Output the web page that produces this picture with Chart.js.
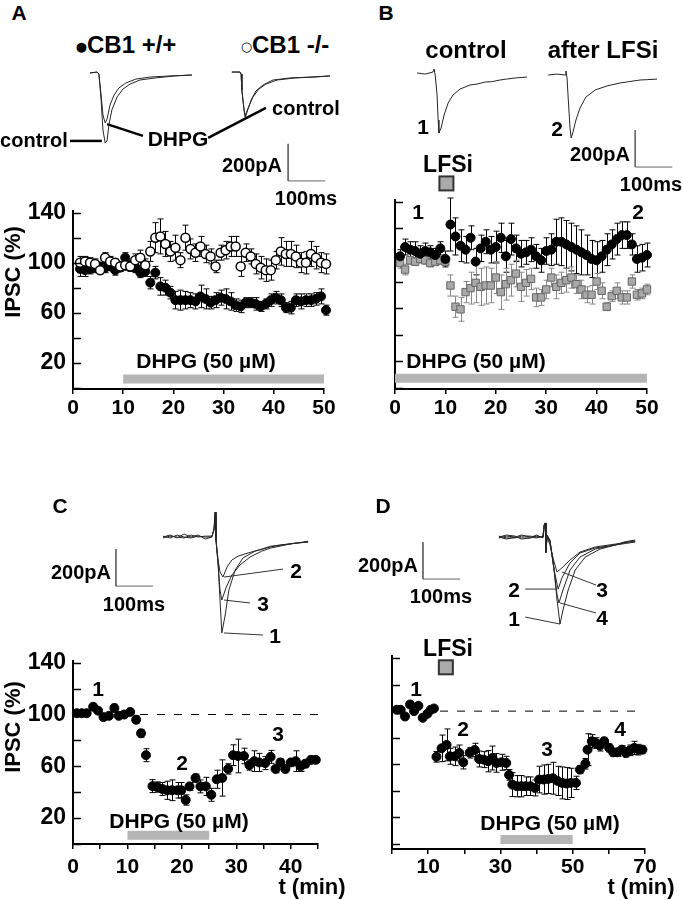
<!DOCTYPE html>
<html>
<head>
<meta charset="utf-8">
<script src="https://cdn.jsdelivr.net/npm/chart.js@4.4.0/dist/chart.umd.min.js"></script>
<style>
  body { margin: 0; background: #fff; }
  #fig { position: relative; width: 683px; height: 900px; overflow: hidden; background: #fff; }
  canvas { position: absolute; }
  .t { position: absolute; font-family: 'Liberation Sans', Arial, sans-serif; font-weight: bold; color: #000;
       line-height: 1; white-space: nowrap; transform: translate(-50%, -50%); }
</style>
</head>
<body>
<div id="fig">
  <canvas id="trA" width="340" height="150" style="left:0;top:60px"></canvas>
  <canvas id="trB" width="343" height="130" style="left:340px;top:60px"></canvas>
  <canvas id="trC" width="340" height="160" style="left:0;top:490px"></canvas>
  <canvas id="trD" width="343" height="160" style="left:340px;top:490px"></canvas>
  <canvas id="chA" width="340" height="235" style="left:0;top:190px"></canvas>
  <canvas id="chB" width="343" height="260" style="left:340px;top:165px"></canvas>
  <canvas id="chC" width="340" height="260" style="left:0;top:640px"></canvas>
  <canvas id="chD" width="343" height="260" style="left:340px;top:640px"></canvas>
</div>
<script>
//------------------------------------- Données -------------------------------------
// axe IPSC (%) commun
const yTickMarks = [0, 20, 40, 60, 80, 100, 120, 140];
const yTickLabels = [20, 60, 100, 140];

// A : CB1 +/+ (ronds pleins) et CB1 -/- (ronds vides), t en min
const timeA = [1.4,2.4,3.4,4.4,5.4,6.4,7.4,8.4,9.4,10.4,11.4,12.4,13.4,14.4,15.4,16.4,17.4,18.4,19.4,20.4,
  21.4,22.4,23.4,24.4,25.4,26.4,27.4,28.4,29.4,30.4,31.4,32.4,33.4,34.4,35.4,36.4,37.4,38.4,39.4,40.4,
  41.4,42.4,43.4,44.4,45.4,46.4,47.4,48.4,49.4,50.4];
const wildA = [95,94,95,96,97,96,97,94,96,104, 98,96,92,93,84,92,81,80,76,70, 70,70,70,69,73,71,68,70,72,71,
  69,66,65,68,68,67,65,67,70,72, 70,64,64,70,69,70,70,71,73,62];
const wildErrA = [6,5,4,4,3,4,3,4,3,4, 3,4,4,4,5,5,7,6,5,7, 8,7,6,6,9,8,5,6,6,8, 7,5,5,4,4,5,4,4,5,5, 5,4,5,5,6,5,5,5,6,4];
const koA = [100,101,100,99,94,104,101,100,97,98, 97,102,104,98,109,120,121,115,109,112, 102,120,111,108,113,107,105,97,108,110,
  113,113,97,108,105,99,96,94,94,102, 109,107,107,105,100,100,107,104,100,99];
const koErrA = [5,4,4,4,3,4,4,3,4,4, 4,5,6,5,8,12,14,10,8,10, 6,10,8,7,8,7,6,5,6,7, 8,8,8,7,6,8,9,9,8,7, 11,10,10,9,8,9,10,9,8,8];

// B : ronds pleins / carrés gris
const timeB = [1,2,3,4,5,6,7,8,9,10,11,12,13,14,15,16,17,18,19,20,21,22,23,24,25,26,27,28,29,30,
  31,32,33,34,35,36,37,38,39,40,41,42,43,44,45,46,47,48,49,50];
const circB = [99,106,104,103,101,103,102,100,105,97, 123,114,107,104,113,95,105,110,104,106, 113,99,112,105,101,102,104,99,96,103,
  104,110,110,108,106,104,102,100,97,96, 99,104,108,112,115,115,108,97,98,100];
const circErrB = [5,6,6,7,6,6,5,5,5,6, 20,14,12,10,9,10,10,9,10,12, 11,12,12,10,10,9,9,9,9,10, 12,17,18,18,18,18,17,15,14,14,
  12,12,11,12,10,10,8,10,10,9];
const squareB = [94,89,96,95,97,96,94,95,96,95, 77,61,59,72,75,79,76,77,77,83, 72,78,81,86,76,79,82,68,68,74,
  83,76,79,81,83,78,74,70,70,80, 73,61,69,73,68,68,80,70,71,74];
const squareErrB = [4,4,3,3,3,3,3,3,3,3, 8,8,9,8,12,15,14,14,13,12, 13,12,12,10,11,10,8,7,6,7, 7,9,8,9,8,7,7,6,7,6, 6,3,4,6,5,5,5,4,4,4];

// C
const timeC = [0.7,1.6,2.5,3.7,4.6,5.6,6.6,7.6,8.4,9.4,10.5,11.6,12.5,13.4,14.6,15.5,16.4,17.3,18.2,19.2,
  19.9,20.7,21.4,22.5,23.4,24.4,25.4,26.4,27.4,28.5,29.4,30.3,31.4,32.4,33.3,34.2,35.3,36.3,37.2,38.1,
  39,40,40.9,41.8,42.7,43.7,44.6];
const ipscC = [101,101,101,106,103,98,99,105,99,100, 102,96,85.5,68.6,44.7,44,42.5,41.5,41.5,41.5,
  41.5,34,44.5,51,44.5,44.5,38,50,51,58, 68.6,68,68,61,64,63,62.5,67.3,58,63, 58,63,64,60,62,65,65];
const errC = [1,1,1,2,2,2,2,3,2,2, 2,3,3,5,5,4,5,7,8,6, 6,4,3,3,5,7,5,7,14,4, 8,13,6,4,8,7,5,5,3,3, 3,3,8,4,3,3,2];

// D
const timeD = [1.3,2.4,3.6,5,6.1,7.3,8.5,9.8,10.7,11.6, 12.3,13.7,15.1,16,17.4,18.6,19.7,21.5,22.9,24.1,
  25.4,26.6,27.8,28.9,30.3,31.6,32.4,33.3,34.6,35.8, 37,38.3,39.5,40.7,42,43.2,44.5,45.8,47.1,48.3,
  49.5,50.9,52,53.5,54.1,55.3,56.4,57.5,58.7,60.1, 61.2,62.4,63.6,64.7,65.8,67,68.2,69.3];
const ipscD = [101,101,96,105,100,104,95,98,101,102, 65.6,72,74.6,66,66,68.5,61.5,68.7,70.8,64,
  63.5,62.3,64.7,61,61.5,61,52,44.7,43.5,43.5, 43.5,43.5,42.2,48.5,48.5,49,49.5,47.5,46,45.5,
  46,46,56,60.4,71,77.3,76,74,77.3,72.3, 69,69,71,68.5,70.5,72.3,71,71];
const errD = [0,0,0,0,0,0,0,0,0,0, 4,10,12,6,7,6,5,4,5,6, 6,8,9,7,6,5,4,9,8,8, 7,7,6,10,11,11,12,11,12,12,
  11,5,3,4,12,5,4,4,3,3, 3,3,3,3,4,5,4,3];

// périodes (min)
const dhpgA = [10, 50], dhpgB = [0, 50], dhpgC = [10, 25], dhpgD = [30, 50];
const lfsiB = 10.2, lfsiD = 14.9;
const baselineC = [12.3, 46.5], baselineD = [13.3, 69.6];

// traces (ms, pA)
const trA_wtControl = [[243,11],[262,16],[267,5],[273,-135],[278,-297],[284,-367],[289,-356],[294,-270],[302,-189],[316,-119],[332,-76],[351,-49],[378,-27],[419,-16],[473,-5],[518,0]];
const trA_wtDhpg = [[243,11],[262,16],[267,5],[273,-108],[278,-216],[284,-259],[289,-238],[297,-162],[308,-108],[321,-70],[340,-43],[367,-22],[405,-11],[459,-5],[518,0]];
const trA_koControl = [[626,16],[648,16],[651,5],[653,-81],[659,-189],[662,-232],[667,-200],[678,-135],[691,-86],[710,-54],[737,-27],[783,-16],[837,-11],[891,-5]];
const trA_koDhpg = [[626,16],[648,16],[651,5],[653,-81],[659,-189],[662,-221],[670,-178],[683,-119],[699,-76],[718,-49],[748,-27],[797,-16],[851,-11],[891,-5]];
const leadA = [[[189,-356],[275,-356]], [[289,-265],[386,-329]], [[562,-340],[718,-178]]];
const barA = [[778,-372],[778,-572],[878,-572]];

const trB_control = [[208,11],[230,5],[251,16],[254,32],[257,0],[262,-108],[265,-243],[267,-313],[273,-286],[281,-216],[292,-151],[305,-108],[324,-76],[351,-54],[370,-49],[392,-38],[410,-36],[432,-27],[450,-22],[473,-16],[505,-11]];
const trB_after = [[562,0],[585,5],[608,0],[610,22],[613,-16],[616,-124],[621,-286],[624,-340],[629,-308],[637,-243],[648,-178],[664,-119],[689,-81],[721,-59],[756,-43],[780,-36],[810,-27],[830,-25],[856,-22]];
const barB = [[797,-297],[797,-497],[897,-497]];

const trC_1 = [[440,0],[459,11],[478,-5],[497,16],[516,0],[535,11],[554,-11],[572,0],[578,49],[581,135],[583,-5],[589,-151],[594,-340],[599,-518],[608,-421],[618,-286],[635,-178],[656,-113],[689,-76],[710,-65],[729,-54],[760,-43],[783,-38],[810,-30],[832,-22]];
const trC_3 = [[440,-5],[459,5],[478,0],[497,-5],[516,11],[535,0],[554,5],[572,5],[578,38],[581,119],[583,-16],[589,-151],[594,-286],[599,-340],[610,-275],[626,-205],[648,-151],[675,-108],[707,-76],[730,-60],[756,-49],[790,-35],[832,-27]];
const trC_2 = [[440,5],[459,-5],[478,11],[497,0],[516,-5],[535,5],[554,0],[572,0],[578,43],[581,135],[583,-16],[589,-124],[594,-189],[602,-216],[613,-162],[626,-124],[643,-103],[670,-86],[707,-65],[730,-50],[756,-43],[800,-32],[832,-27]];
const leadC = [[[605,-216],[764,-173]], [[605,-340],[675,-356]], [[605,-518],[710,-529]]];
const barC = [[313,-65],[313,-265],[413,-265]];

const trD_1 = [[429,0],[450,11],[473,5],[490,-11],[513,-5],[530,5],[548,0],[551,65],[554,76],[556,-86],[559,11],[567,-16],[578,-178],[586,-340],[594,-470],[602,-394],[616,-286],[635,-178],[662,-108],[702,-65],[743,-43],[770,-30],[797,-22]];
const trD_4 = [[429,-5],[450,5],[473,0],[490,11],[513,0],[530,-5],[548,5],[551,59],[554,76],[556,-70],[559,5],[567,-22],[578,-178],[586,-313],[591,-356],[602,-286],[621,-178],[648,-108],[689,-65],[743,-43],[770,-35],[797,-27]];
const trD_2 = [[429,5],[450,-5],[473,-5],[490,5],[513,5],[530,0],[548,0],[551,54],[554,70],[556,-81],[559,0],[567,-27],[578,-178],[589,-281],[599,-221],[621,-140],[648,-86],[689,-59],[743,-43],[770,-25],[797,-16]];
const trD_3 = [[429,0],[450,-11],[473,0],[490,-5],[513,-5],[530,11],[548,-5],[551,65],[554,76],[556,-76],[559,0],[567,-43],[578,-135],[586,-189],[599,-167],[621,-124],[648,-81],[689,-54],[743,-38],[770,-30],[797,-22]];
const leadD = [[[500,-281],[583,-281]], [[500,-432],[594,-470]], [[599,-189],[691,-259]], [[594,-356],[691,-410]]];
const barD = [[224,-27],[224,-227],[324,-227]];

//------------------------------------- Réglages -------------------------------------
const FONT = "'Liberation Sans', Arial, Helvetica, sans-serif";
Chart.defaults.font.family = FONT;
Chart.defaults.font.weight = 'bold';
Chart.defaults.color = '#000';

const pts = (times, values) => times.map((t, i) => ({ x: t, y: values[i] }));
const xy = arr => arr.map(p => ({ x: p[0], y: p[1] }));

// barres d'erreur (±SEM) dessinées sous les points
const errorBars = {
  id: 'errorBars',
  beforeDatasetsDraw(chart) {
    const ctx = chart.ctx, ys = chart.scales.y;
    chart.data.datasets.forEach((ds, i) => {
      if (!ds.errors) return;
      const meta = chart.getDatasetMeta(i);
      ctx.save();
      ctx.strokeStyle = ds.errorColor || '#000';
      ctx.lineWidth = 1;
      meta.data.forEach((el, j) => {
        const e = ds.errors[j];
        if (!e) return;
        const x = Math.round(el.x) + 0.5;
        const y1 = ys.getPixelForValue(ds.data[j].y + e);
        const y2 = ys.getPixelForValue(ds.data[j].y - e);
        ctx.beginPath();
        ctx.moveTo(x, y1); ctx.lineTo(x, y2);
        ctx.moveTo(x - 3, y1); ctx.lineTo(x + 3, y1);
        ctx.moveTo(x - 3, y2); ctx.lineTo(x + 3, y2);
        ctx.stroke();
      });
      ctx.restore();
    });
  }
};

// graduations de l'axe Y tournées vers l'intérieur
const innerTicks = {
  id: 'innerTicks',
  afterDraw(chart) {
    const s = chart.scales.y, ctx = chart.ctx, left = chart.chartArea.left;
    ctx.save();
    ctx.strokeStyle = '#000';
    ctx.lineWidth = 1.5;
    s.ticks.forEach(t => {
      const y = Math.round(s.getPixelForValue(t.value)) + 0.5;
      ctx.beginPath(); ctx.moveTo(left, y); ctx.lineTo(left + 8, y); ctx.stroke();
    });
    ctx.restore();
  }
};

// carré LFSi (peut sortir de la zone du graphique)
const lfsiMarker = {
  id: 'lfsiMarker',
  afterDatasetsDraw(chart, args, opts) {
    if (opts.x == null) return;
    const ctx = chart.ctx;
    const x = chart.scales.x.getPixelForValue(opts.x);
    const y = chart.scales.y.getPixelForValue(opts.y);
    ctx.save();
    ctx.fillStyle = '#aaa';
    ctx.strokeStyle = '#333';
    ctx.lineWidth = 2;
    ctx.fillRect(x - 7, y - 7, 14, 14);
    ctx.strokeRect(x - 7, y - 7, 14, 14);
    ctx.restore();
  }
};

function dots(data, errors, extra) {
  return Object.assign({ data, errors, pointStyle: 'circle', pointRadius: 4.5, backgroundColor: '#000',
    borderColor: '#000', borderWidth: 1, clip: false }, extra || {});
}
function hLine(x0, x1, y, extra) {
  return Object.assign({ data: [{ x: x0, y }, { x: x1, y }], showLine: true, pointRadius: 0, tension: 0,
    clip: false, order: 10 }, extra);
}

function panelChart(id, o) {
  return new Chart(document.getElementById(id), {
    type: 'scatter',
    data: { datasets: o.datasets },
    options: {
      responsive: false, devicePixelRatio: 1, animation: false,
      layout: { padding: o.pad },
      plugins: { legend: { display: false }, tooltip: { enabled: false }, lfsiMarker: o.lfsi || {} },
      scales: {
        x: {
          type: 'linear', min: o.xMin, max: o.xMax,
          afterFit: s => { s.height = o.xH; },
          afterBuildTicks: s => { s.ticks = o.xTicks.map(v => ({ value: v })); },
          ticks: { autoSkip: false, maxRotation: 0, padding: o.xPad, color: '#000', font: { size: 21, weight: 'bold' },
                   callback: v => o.xLabels.includes(v) ? String(v) : '' },
          grid: { drawOnChartArea: false, drawTicks: true, tickLength: 5, color: '#000', lineWidth: 1.5 },
          border: { color: '#000', width: 2 }
        },
        y: {
          type: 'linear', min: o.yMin, max: o.yMax,
          afterFit: s => { s.width = o.yW; },
          afterBuildTicks: s => { s.ticks = yTickMarks.map(v => ({ value: v })); },
          ticks: { display: o.yLabels, autoSkip: false, padding: 7, color: '#000', font: { size: 23, weight: 'bold' },
                   callback: v => yTickLabels.includes(v) ? String(v) : '' },
          grid: { drawOnChartArea: false, drawTicks: false },
          border: { color: '#000', width: 2 }
        }
      }
    },
    plugins: [errorBars, innerTicks, lfsiMarker]
  });
}

function traceChart(id, xMax, yMin, yMax, lines) {
  return new Chart(document.getElementById(id), {
    type: 'scatter',
    data: {
      datasets: lines.map(l => ({ data: xy(l.pts), showLine: true, pointRadius: 0, tension: 0,
        borderColor: l.color, borderWidth: l.width, clip: false }))
    },
    options: {
      responsive: false, devicePixelRatio: 1, animation: false, layout: { padding: 0 },
      plugins: { legend: { display: false }, tooltip: { enabled: false } },
      scales: {
        x: { type: 'linear', display: false, min: 0, max: xMax },
        y: { type: 'linear', display: false, min: yMin, max: yMax }
      }
    }
  });
}

const TRACE = '#262626', THIN = '#333', SCALE = '#666';
const barStyle = { borderColor: '#b5b5b5', borderWidth: 9, borderCapStyle: 'butt' };
const dashStyle = { borderColor: '#000', borderWidth: 1, borderDash: [8, 9] };

//------------------------------------- Graphiques -------------------------------------
// A
panelChart('chA', {
  pad: { top: 10, right: 16, left: 0, bottom: 0 }, yW: 73, xH: 36, xPad: 2, yLabels: true,
  xMin: 0, xMax: 50, xTicks: [0, 10, 20, 30, 40, 50], xLabels: [0, 10, 20, 30, 40, 50],
  yMin: -1.1, yMax: 141.5,
  datasets: [
    dots(pts(timeA, koA), koErrA, { backgroundColor: '#fff', borderWidth: 1.5 }),
    dots(pts(timeA, wildA), wildErrA),
    hLine(dhpgA[0], dhpgA[1], 7, barStyle)
  ]
});

// B
panelChart('chB', {
  pad: { top: 35, right: 36, left: 0, bottom: 0 }, yW: 55, xH: 36, xPad: 2, yLabels: false,
  xMin: 0, xMax: 50, xTicks: [0, 10, 20, 30, 40, 50], xLabels: [0, 10, 20, 30, 40, 50],
  yMin: -1.1, yMax: 141.5, lfsi: { x: lfsiB, y: 154 },
  datasets: [
    dots(pts(timeB, circB), circErrB),
    dots(pts(timeB, squareB), squareErrB, { pointStyle: 'rect', pointRadius: 5.2, backgroundColor: '#a9a9a9',
      borderColor: '#666', errorColor: '#888' }),
    hLine(dhpgB[0], dhpgB[1], 7, barStyle)
  ]
});

// C
panelChart('chC', {
  pad: { top: 17, right: 22, left: 0, bottom: 0 }, yW: 73, xH: 56, xPad: 6, yLabels: true,
  xMin: 0, xMax: 45, xTicks: [0, 5, 10, 15, 20, 25, 30, 35, 40, 45], xLabels: [0, 10, 20, 30, 40],
  yMin: 0, yMax: 141.5,
  datasets: [
    dots(pts(timeC, ipscC), errC),
    hLine(baselineC[0], baselineC[1], 100, dashStyle),
    hLine(dhpgC[0], dhpgC[1], 6.8, barStyle)
  ]
});

// D
panelChart('chD', {
  pad: { top: 16, right: 38, left: 0, bottom: 0 }, yW: 52, xH: 51, xPad: 1, yLabels: false,
  xMin: 0, xMax: 70, xTicks: [0, 10, 20, 30, 40, 50, 60, 70], xLabels: [10, 30, 50, 70],
  yMin: -3.76, yMax: 141.5, lfsi: { x: lfsiD, y: 133 },
  datasets: [
    dots(pts(timeD, ipscD), errD),
    hLine(baselineD[0], baselineD[1], 100, dashStyle),
    hLine(dhpgD[0], dhpgD[1], 3.4, barStyle)
  ]
});

// traces
traceChart('trA', 918, -729, 81, [
  { pts: trA_wtControl, color: TRACE, width: 1 }, { pts: trA_wtDhpg, color: TRACE, width: 1 },
  { pts: trA_koControl, color: TRACE, width: 1 }, { pts: trA_koDhpg, color: TRACE, width: 1 },
  ...leadA.map(p => ({ pts: p, color: '#000', width: 2.5 })),
  { pts: barA, color: SCALE, width: 1 }
]);
traceChart('trB', 926, -621, 81, [
  { pts: trB_control, color: TRACE, width: 1 }, { pts: trB_after, color: TRACE, width: 1 },
  { pts: barB, color: SCALE, width: 1 }
]);
traceChart('trC', 918, -610, 254, [
  { pts: trC_1, color: TRACE, width: 1 }, { pts: trC_3, color: TRACE, width: 1 }, { pts: trC_2, color: TRACE, width: 1 },
  ...leadC.map(p => ({ pts: p, color: THIN, width: 1 })),
  { pts: barC, color: SCALE, width: 1 }
]);
traceChart('trD', 926, -610, 254, [
  { pts: trD_1, color: TRACE, width: 1 }, { pts: trD_4, color: TRACE, width: 1 },
  { pts: trD_2, color: TRACE, width: 1 }, { pts: trD_3, color: TRACE, width: 1 },
  ...leadD.map(p => ({ pts: p, color: THIN, width: 1 })),
  { pts: barD, color: SCALE, width: 1 }
]);

//------------------------------------- Textes -------------------------------------
const DOT = '<span style="font-family:\'DejaVu Sans\';font-size:13px;vertical-align:2px">●</span>';
const RING = '<span style="font-family:\'DejaVu Sans\';font-size:13px;vertical-align:2px">○</span>';
const texts = [
  ['A', 19, 12, 21], [DOT + 'CB1 +/+', 126, 45, 24], [RING + 'CB1 -/-', 285, 45, 24],
  ['control', 34, 140, 20], ['DHPG', 178, 138, 21], ['control', 306, 108, 20],
  ['200pA', 252, 165, 20], ['100ms', 306, 198, 20], ['DHPG (50 µM)', 206, 360, 21],
  ['IPSC (%)', 13, 272, 22, true],
  ['B', 386, 12, 21], ['control', 466, 50, 24], ['after LFSi', 603, 50, 24],
  ['1', 423, 126, 21], ['2', 557, 128, 21], ['200pA', 600, 154, 20], ['100ms', 651, 184, 20],
  ['LFSi', 448, 164, 23], ['1', 418, 211, 21], ['2', 638, 211, 21], ['DHPG (50 µM)', 476, 360, 21],
  ['C', 60, 505, 21], ['200pA', 81, 572, 20], ['100ms', 134, 604, 20],
  ['2', 296, 570, 21], ['3', 263, 603, 21], ['1', 275, 635, 21],
  ['IPSC (%)', 13, 727, 22, true], ['1', 98, 688, 21], ['2', 182, 762, 21], ['3', 278, 733, 21],
  ['DHPG (50 µM)', 179, 820, 21], ['t (min)', 312, 887, 22],
  ['D', 383, 505, 21], ['200pA', 388, 565, 20], ['100ms', 441, 596, 20],
  ['2', 514, 589, 21], ['1', 514, 618, 21], ['3', 602, 589, 21], ['4', 602, 617, 21],
  ['LFSi', 448, 648, 23], ['1', 416, 688, 21], ['2', 463, 728, 21], ['3', 547, 748, 21], ['4', 620, 728, 21],
  ['DHPG (50 µM)', 550, 822, 21], ['t (min)', 641, 887, 22]
];
const fig = document.getElementById('fig');
texts.forEach(([txt, x, y, size, vertical]) => {
  const d = document.createElement('div');
  d.className = 't';
  d.innerHTML = txt;
  d.style.left = x + 'px';
  d.style.top = y + 'px';
  d.style.fontSize = size + 'px';
  if (vertical) d.style.transform = 'translate(-50%, -50%) rotate(-90deg)';
  fig.appendChild(d);
});
</script>
</body>
</html>
